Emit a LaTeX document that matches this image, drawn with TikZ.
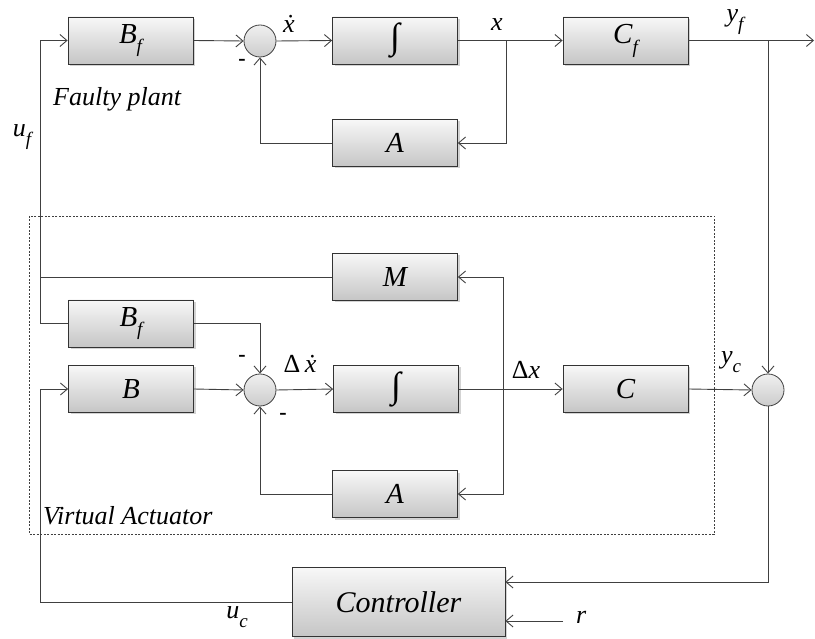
\documentclass[tikz,border=0pt]{standalone}
\usepackage{fontspec}
\setmainfont{Liberation Serif}
\usetikzlibrary{arrows.meta,shadows,calc}
\newcommand{\sbs}[1]{\raisebox{-0.34em}{\fontsize{19}{19}\selectfont #1}}
\begin{document}
\begin{tikzpicture}[x=1pt,y=-1pt,
  blk/.style={draw=black!80, line width=0.8pt, top color=gray!6, bottom color=gray!45,
    minimum width=125pt, minimum height=47pt, inner sep=0pt,
    drop shadow={shadow xshift=2pt, shadow yshift=-2pt, opacity=0.35},
    font=\fontsize{29}{32}\selectfont\itshape},
  sumc/.style={circle, draw=black!75, line width=0.8pt, top color=gray!12, bottom color=gray!40,
    minimum size=32pt, inner sep=0pt},
  ln/.style={draw=black!75, line width=0.9pt},
  arr/.style={ln, -{Straight Barb[length=7pt,width=12pt]}},
  lbl/.style={font=\fontsize{26}{28}\selectfont\itshape, inner sep=0pt},
  sgn/.style={font=\fontsize{22}{22}\selectfont\bfseries, inner sep=0pt}]
\useasboundingbox (0,0) rectangle (815,639);

% dashed virtual actuator frame
\draw[black!75, line width=0.8pt, dash pattern=on 2pt off 1.5pt] (29,216) rectangle (714,534);

% blocks
\node[blk] (bf1) at (130.5,40.5) {B\sbs{f}};
\node[sumc] (s1) at (260,41) {};
\node[blk] (int1) at (395,40.5) {\fontsize{36}{36}\selectfont\upshape ∫};
\node[blk] (cf) at (625.5,40.5) {C\sbs{f}};
\node[blk] (a1) at (395,143) {A};

\node[blk] (m) at (395,277) {M};
\node[blk] (bf2) at (131,323.5) {B\sbs{f}};
\node[blk] (b) at (131,389) {B};
\node[sumc] (s2) at (260,390) {};
\node[blk] (int2) at (396,389) {\fontsize{36}{36}\selectfont\upshape ∫};
\node[blk] (c) at (625.5,389) {C};
\node[blk] (a2) at (395,494) {A};
\node[sumc] (s3) at (768,390) {};
\node[blk, minimum width=213pt, minimum height=69pt, font=\fontsize{30}{32}\selectfont\itshape] (ctrl) at (398.5,602) {Controller};

% junction coordinates
\coordinate (ufj) at (40,323.5);
\coordinate (xb) at (506,40.5);
\coordinate (yfb) at (768,40.5);
\coordinate (out) at (814,40.5);
\coordinate (dxb) at (503,389);
\coordinate (ucc) at (40,602);
\coordinate (rin) at (563,621);

% faulty plant
\draw[ln] (bf2.west) -- (ufj);
\draw[arr] (ufj) |- (bf1.west);
\draw[ln] (m.west) -- (m.west -| ufj);
\draw[arr] (bf1.east) -- (s1.west);
\draw[arr] (s1.east) -- (int1.west);
\draw[arr] (int1.east) -- (cf.west);
\draw[arr] (xb) |- (a1.east);
\draw[arr] (a1.west) -| (s1.south);
\draw[arr] (cf.east) -- (out);
\draw[arr] (yfb) -- (s3.north);

% virtual actuator
\draw[arr] (bf2.east) -| (s2.north);
\draw[arr] (b.east) -- (s2.west);
\draw[arr] (s2.east) -- (int2.west);
\draw[arr] (int2.east) -- (c.west);
\draw[arr] (dxb) |- (m.east);
\draw[arr] (dxb) |- (a2.east);
\draw[arr] (a2.west) -| (s2.south);
\draw[arr] (c.east) -- (s3.west);

% controller loop
\draw[arr] (s3.south) |- ([yshift=20pt]ctrl.east);
\draw[arr] (rin) -- (rin -| ctrl.east);
\draw[arr] (ctrl.west) -- (ctrl.west -| ucc) |- (b.west);

% labels
\node[lbl] (lxd) at (289,24) {\.{x}};
\node[lbl] (lx) at (497,25) {x};
\node[lbl] (lyf) at (735,22) {y\sbs{f}};
\node[sgn] (m1) at (242,62) {-};
\node[lbl, anchor=west] (lfp) at (53,99) {Faulty plant};
\node[lbl] (luf) at (22,137) {u\sbs{f}};
\node[sgn] (m2) at (242,358) {-};
\node[lbl] (ldxd) at (300,364) {{\upshape Δ}\,\.{x}};
\node[sgn] (m3) at (283,416) {-};
\node[lbl] (ldx) at (526,370) {{\upshape Δ}x};
\node[lbl] (lyc) at (731,362) {y\sbs{c}};
\node[lbl, anchor=west] (lva) at (43,516) {Virtual Actuator};
\node[lbl] (luc) at (237,617) {u\sbs{c}};
\node[lbl, anchor=west] (lr) at (576,617) {r};
\end{tikzpicture}
\end{document}
